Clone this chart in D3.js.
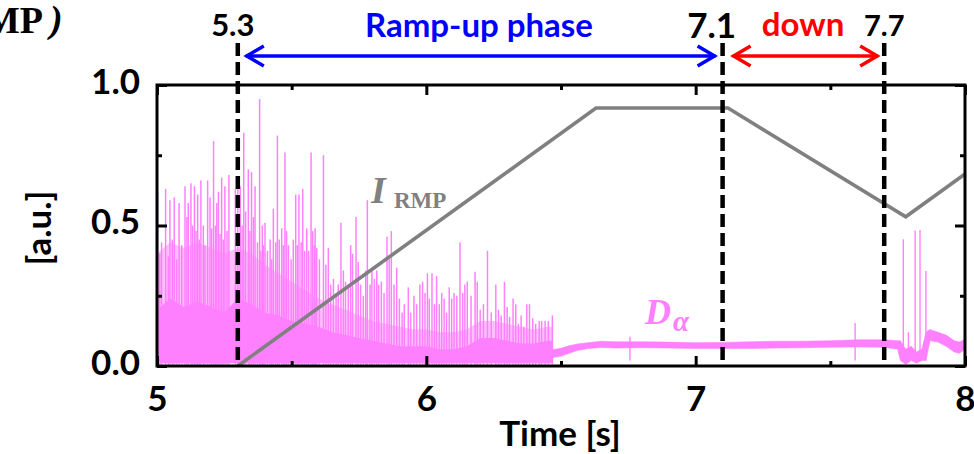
<!DOCTYPE html>
<html>
<head>
<meta charset="utf-8">
<script src="https://cdn.jsdelivr.net/npm/d3@7"></script>
<style>
  body { margin: 0; background: #fff; }
  svg { display: block; }
</style>
</head>
<body>
<svg id="chart" width="974" height="454"></svg>
<script>
// ---- data ---------------------------------------------------------------
// RMP coil current waveform (normalised)
const rmpT = [5.30, 6.63, 7.12, 7.78, 8.00];
const rmpV = [0.00, 0.918, 0.918, 0.531, 0.683];

// D-alpha ELM bursts before suppression: burst time [s] and peak [a.u.]
const elmT = [5.002,5.010,5.017,5.032,5.042,5.048,5.057,5.064,5.073,5.082,5.092,5.104,5.111,5.116,5.126,5.132,
  5.139,5.145,5.151,5.157,5.163,5.172,5.178,5.188,5.197,5.203,5.210,5.217,5.222,5.228,5.234,5.240,5.246,5.252,
  5.260,5.267,5.291,5.300,5.309,5.316,5.322,5.329,5.339,5.345,5.351,5.358,5.364,5.373,5.381,5.386,5.391,5.396,
  5.401,5.410,5.420,5.426,5.432,5.441,5.447,5.454,5.463,5.469,5.475,5.481,5.488,5.498,5.506,5.515,5.521,5.527,
  5.535,5.541,5.548,5.556,5.563,5.572,5.578,5.584,5.587,5.593,5.603,5.618,5.627,5.636,5.645,5.655,5.665,5.673,
  5.683,5.692,5.700,5.710,5.719,5.726,5.739,5.747,5.756,5.766,5.775,5.781,5.791,5.798,5.807,5.816,5.823,5.833,
  5.843,5.854,5.862,5.870,5.880,5.890,5.900,5.910,5.918,5.933,5.942,5.954,5.964,5.976,5.986,5.995,6.004,6.011,
  6.021,6.030,6.038,6.048,6.057,6.066,6.075,6.085,6.094,6.103,6.113,6.125,6.135,6.143,6.152,6.166,6.181,6.189,
  6.200,6.212,6.227,6.241,6.258,6.268,6.278,6.290,6.300,6.309,6.322,6.332,6.342,6.352,6.362,6.373,6.383,6.395,
  6.406,6.419,6.428,6.441,6.453,6.468];
const elmV = [0.62,0.40,0.44,0.63,0.39,0.59,0.45,0.60,0.38,0.58,0.43,0.64,0.53,0.58,0.65,0.50,
  0.64,0.48,0.61,0.45,0.66,0.50,0.43,0.66,0.60,0.49,0.80,0.50,0.58,0.62,0.47,0.67,0.45,0.64,
  0.48,0.68,0.63,0.66,0.64,0.50,0.83,0.55,0.70,0.48,0.69,0.53,0.64,0.44,0.95,0.41,0.50,0.43,
  0.51,0.41,0.45,0.38,0.56,0.44,0.82,0.45,0.49,0.43,0.76,0.48,0.43,0.38,0.45,0.61,0.43,0.61,
  0.44,0.63,0.41,0.49,0.41,0.76,0.48,0.43,0.49,0.42,0.38,0.75,0.36,0.42,0.29,0.31,0.26,0.29,
  0.51,0.34,0.30,0.29,0.43,0.40,0.53,0.37,0.29,0.25,0.34,0.59,0.29,0.34,0.31,0.34,0.29,0.30,
  0.26,0.46,0.38,0.48,0.29,0.35,0.24,0.19,0.22,0.28,0.19,0.25,0.22,0.29,0.30,0.26,0.33,0.24,
  0.33,0.22,0.32,0.22,0.26,0.24,0.19,0.28,0.24,0.26,0.25,0.44,0.26,0.29,0.30,0.25,0.335,0.30,
  0.20,0.22,0.41,0.19,0.29,0.20,0.18,0.30,0.21,0.175,0.24,0.22,0.15,0.18,0.14,0.22,0.22,0.17,
  0.15,0.16,0.16,0.16,0.16,0.18];

// dense inter-ELM level during the ELMy phase
const elmBandT    = [5.00,5.05,5.10,5.15,5.20,5.25,5.30,5.35,5.40,5.45,5.50,5.55,5.60,5.65,5.70,5.75,
  5.80,5.85,5.90,5.95,6.00,6.05,6.10,6.15,6.20,6.25,6.30,6.35,6.40,6.45,6.468];
const elmBandCore = [0.20,0.24,0.21,0.23,0.21,0.19,0.24,0.22,0.19,0.18,0.16,0.15,0.14,0.12,0.11,0.10,
  0.09,0.08,0.07,0.07,0.07,0.06,0.06,0.07,0.10,0.10,0.09,0.08,0.08,0.09,0.09];
const elmBandHaze = [0.40,0.44,0.42,0.44,0.42,0.40,0.42,0.40,0.36,0.33,0.30,0.27,0.24,0.22,0.20,0.18,
  0.16,0.15,0.14,0.13,0.13,0.12,0.12,0.13,0.16,0.16,0.15,0.14,0.13,0.14,0.14];

// suppressed phase: noisy D-alpha band (lower / upper edge)
const supT  = [6.468,6.50,6.53,6.56,6.60,6.65,6.70,6.80,6.90,7.00,7.10,7.20,7.30,7.40,7.50,7.60,7.70,
  7.75,7.76,7.78,7.80,7.82,7.84,7.855,7.87,7.90,7.93,7.96,7.98,8.00];
const supLo = [0.030,0.035,0.045,0.055,0.062,0.066,0.064,0.065,0.064,0.062,0.062,0.062,0.064,0.065,0.067,0.068,0.067,
  0.060,0.020,0.005,0.020,0.010,0.020,0.020,0.090,0.085,0.070,0.050,0.045,0.060];
const supHi = [0.058,0.063,0.072,0.078,0.083,0.088,0.086,0.086,0.085,0.083,0.084,0.086,0.088,0.088,0.090,0.093,0.093,
  0.090,0.090,0.060,0.070,0.050,0.060,0.120,0.130,0.120,0.110,0.090,0.085,0.095];

// isolated bursts during the suppressed phase
const supSpikeT = [6.756, 7.592, 7.771, 7.790, 7.815, 7.833, 7.855];
const supSpikeV = [0.104, 0.153, 0.451, 0.120, 0.482, 0.484, 0.338];

// phase boundaries
const phaseT = [5.3, 7.1, 7.7];
const phaseLabel = ["5.3", "7.1", "7.7"];

const xMajor = [5, 6, 7, 8];
const xMinor = [5.5, 6.5, 7.5];
const yMajor = [0, 0.5, 1.0];
const yMinor = [0.25, 0.75];

// ---- layout -------------------------------------------------------------
const PINK = "#ff80ff", GRAY = "#808080";
const SANS = "Lato, 'Open Sans', sans-serif";
const SERIF = "'Liberation Serif', 'DejaVu Serif', serif";

const svg = d3.select("#chart");
const x = d3.scaleLinear().domain([5, 8]).range([157, 965]);
const y = d3.scaleLinear().domain([0, 1]).range([366, 85]);

svg.append("clipPath").attr("id", "plotClip")
  .append("rect")
  .attr("x", x(5)).attr("y", y(1))
  .attr("width", x(8) - x(5)).attr("height", y(0) - y(1));

const plot = svg.append("g").attr("clip-path", "url(#plotClip)");

// ELMy phase: haze + core band
const bandIdx = d3.range(elmBandT.length);
plot.append("path")
  .datum(bandIdx)
  .attr("fill", PINK).attr("fill-opacity", 0.5)
  .attr("d", d3.area().x(i => x(elmBandT[i])).y0(y(0.01)).y1(i => y(elmBandHaze[i])));
plot.append("path")
  .datum(bandIdx)
  .attr("fill", PINK).attr("fill-opacity", 1)
  .attr("d", d3.area().x(i => x(elmBandT[i])).y0(y(0.01)).y1(i => y(elmBandCore[i])));

// ELM bursts
plot.append("g").selectAll("line")
  .data(d3.range(elmT.length))
  .join("line")
  .attr("x1", i => x(elmT[i])).attr("x2", i => x(elmT[i]))
  .attr("y1", y(0.005)).attr("y2", i => y(elmV[i]))
  .attr("stroke", PINK).attr("stroke-width", 1.5);

// suppressed phase band
plot.append("path")
  .datum(d3.range(supT.length))
  .attr("fill", PINK)
  .attr("stroke", PINK).attr("stroke-width", 0.6)
  .attr("d", d3.area().x(i => x(supT[i])).y0(i => y(supLo[i])).y1(i => y(supHi[i])));

plot.append("g").selectAll("line")
  .data(d3.range(supSpikeT.length))
  .join("line")
  .attr("x1", i => x(supSpikeT[i])).attr("x2", i => x(supSpikeT[i]))
  .attr("y1", y(0.02)).attr("y2", i => y(supSpikeV[i]))
  .attr("stroke", PINK).attr("stroke-width", 1.4);

// RMP current
plot.append("path")
  .datum(d3.range(rmpT.length))
  .attr("fill", "none")
  .attr("stroke", GRAY).attr("stroke-width", 3.6)
  .attr("d", d3.line().x(i => x(rmpT[i])).y(i => y(rmpV[i])));

// ---- axes ---------------------------------------------------------------
function styleAxis(g, showText) {
  g.select(".domain").remove();
  g.selectAll(".tick line").attr("stroke", "#000").attr("stroke-width", 3);
  g.selectAll(".tick text")
    .attr("fill", "#000")
    .style("font-family", SANS).style("font-weight", "bold").style("font-size", "35px");
  if (!showText) g.selectAll(".tick text").remove();
}
const noLabel = () => "";

svg.append("g").attr("transform", `translate(0,${y(0)})`)
  .call(d3.axisBottom(x).tickValues(xMajor).tickSize(-10).tickPadding(20).tickFormat(d3.format("d")))
  .call(g => styleAxis(g, true));
svg.append("g").attr("transform", `translate(0,${y(0)})`)
  .call(d3.axisBottom(x).tickValues(xMinor).tickSize(-5).tickFormat(noLabel))
  .call(g => styleAxis(g, false));
svg.append("g").attr("transform", `translate(0,${y(1)})`)
  .call(d3.axisTop(x).tickValues(xMajor).tickSize(-10).tickFormat(noLabel))
  .call(g => styleAxis(g, false));
svg.append("g").attr("transform", `translate(0,${y(1)})`)
  .call(d3.axisTop(x).tickValues(xMinor).tickSize(-5).tickFormat(noLabel))
  .call(g => styleAxis(g, false));

svg.append("g").attr("transform", `translate(${x(5)},0)`)
  .call(d3.axisLeft(y).tickValues(yMajor).tickSize(-10).tickPadding(17).tickFormat(d3.format(".1f")))
  .call(g => styleAxis(g, true))
  .call(g => g.selectAll(".tick text").attr("dy", "0.24em"));
svg.append("g").attr("transform", `translate(${x(5)},0)`)
  .call(d3.axisLeft(y).tickValues(yMinor).tickSize(-5).tickFormat(noLabel))
  .call(g => styleAxis(g, false));
svg.append("g").attr("transform", `translate(${x(8)},0)`)
  .call(d3.axisRight(y).tickValues(yMajor).tickSize(-10).tickFormat(noLabel))
  .call(g => styleAxis(g, false));
svg.append("g").attr("transform", `translate(${x(8)},0)`)
  .call(d3.axisRight(y).tickValues(yMinor).tickSize(-5).tickFormat(noLabel))
  .call(g => styleAxis(g, false));

// frame
svg.append("rect")
  .attr("x", x(5)).attr("y", y(1))
  .attr("width", x(8) - x(5)).attr("height", y(0) - y(1))
  .attr("fill", "none").attr("stroke", "#000").attr("stroke-width", 3);

// axis titles
svg.append("text")
  .attr("x", 560).attr("y", 446)
  .attr("text-anchor", "middle")
  .style("font-family", SANS).style("font-weight", "bold").style("font-size", "35px")
  .text("Time [s]");
svg.append("text")
  .attr("transform", "translate(51,228) rotate(-90)")
  .attr("text-anchor", "middle")
  .style("font-family", SANS).style("font-weight", "bold").style("font-size", "35px")
  .text("[a.u.]");

// ---- phase markers --------------------------------------------------------
svg.append("g").selectAll("line")
  .data(phaseT)
  .join("line")
  .attr("x1", d => x(d)).attr("x2", d => x(d))
  .attr("y1", 43).attr("y2", y(0))
  .attr("stroke", "#000").attr("stroke-width", 4.5)
  .attr("stroke-dasharray", "13,6");

const phaseFont = [31, 35, 29];
svg.append("g").selectAll("text")
  .data(d3.range(phaseT.length))
  .join("text")
  .attr("x", i => x(phaseT[i]) - (i === 0 ? 5 : i === 1 ? 11 : 0))
  .attr("y", i => i === 1 ? 38 : 36)
  .attr("text-anchor", "middle")
  .style("font-family", SANS).style("font-weight", "bold")
  .style("font-size", i => phaseFont[i] + "px")
  .text(i => phaseLabel[i]);

function doubleArrow(x0, x1, yy, color) {
  const g = svg.append("g")
    .attr("stroke", color).attr("stroke-width", 3.5)
    .attr("fill", "none").attr("stroke-linejoin", "miter").attr("stroke-linecap", "butt");
  g.append("line").attr("x1", x0 + 1).attr("x2", x1 - 1).attr("y1", yy).attr("y2", yy);
  g.append("path").attr("d", `M${x0 + 19},${yy - 10}L${x0 + 2},${yy}L${x0 + 19},${yy + 10}`);
  g.append("path").attr("d", `M${x1 - 19},${yy - 10}L${x1 - 2},${yy}L${x1 - 19},${yy + 10}`);
}
doubleArrow(x(phaseT[0]) + 7, x(phaseT[1]) - 6, 56, "#0000ff");
doubleArrow(x(phaseT[1]) + 9, x(phaseT[2]) - 5, 56, "#ff0000");

svg.append("text")
  .attr("x", 479).attr("y", 37)
  .attr("text-anchor", "middle").attr("fill", "#0000ff")
  .style("font-family", SANS).style("font-weight", "bold").style("font-size", "33px")
  .text("Ramp-up phase");
svg.append("text")
  .attr("x", 803).attr("y", 36)
  .attr("text-anchor", "middle").attr("fill", "#ff0000")
  .style("font-family", SANS).style("font-weight", "bold").style("font-size", "33px")
  .text("down");

// ---- signal labels --------------------------------------------------------
const rmpLab = svg.append("text").attr("fill", GRAY)
  .style("font-family", SERIF).style("font-weight", "bold");
rmpLab.append("tspan").attr("x", 371).attr("y", 203)
  .style("font-style", "italic").style("font-size", "38px").text("I");
rmpLab.append("tspan").attr("x", 394).attr("y", 208)
  .style("font-size", "23px").text("RMP");

const daLab = svg.append("text").attr("fill", PINK)
  .style("font-family", SERIF).style("font-weight", "bold").style("font-style", "italic");
daLab.append("tspan").attr("x", 645).attr("y", 324).style("font-size", "36px").text("D");
daLab.append("tspan").attr("x", 673).attr("y", 331).style("font-size", "29px").text("α");

// panel heading (continues past the left edge)
const head = svg.append("text")
  .style("font-family", SERIF).style("font-weight", "bold").style("font-size", "38px");
head.append("tspan").attr("x", 43).attr("y", 33).attr("text-anchor", "end").text("RMP");
svg.append("text")
  .attr("x", 50).attr("y", 32)
  .style("font-family", SERIF).style("font-weight", "bold").style("font-style", "italic")
  .style("font-size", "38px")
  .text(")");
</script>
</body>
</html>
